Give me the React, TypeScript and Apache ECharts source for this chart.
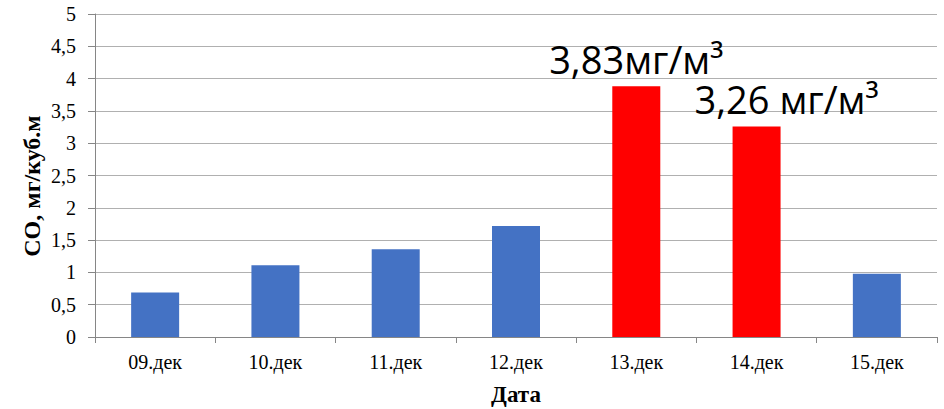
import React, { useEffect, useRef } from "react";
import * as echarts from "echarts";

const categories = ["09.дек", "10.дек", "11.дек", "12.дек", "13.дек", "14.дек", "15.дек"];
const values = [0.69, 1.11, 1.36, 1.72, 3.88, 3.26, 0.98];
const highlighted = [false, false, false, false, true, true, false];
const barLabels = ["", "", "", "", "3,83мг/м³", "3,26 мг/м³", ""];
const labelOffsets = [0, 0, 0, 0, 0, 30, 0];

export default function App() {
  const ref = useRef<HTMLDivElement>(null);
  useEffect(() => {
    if (!ref.current) return;
    const chart = echarts.init(ref.current, null, { renderer: "svg" });
    const serif = "'Liberation Serif', 'Times New Roman', serif";
    chart.setOption({
      animation: false,
      grid: { left: 95, right: 7, top: 14, bottom: 72, outerBoundsMode: "none", containLabel: false },
      xAxis: {
        type: "category",
        data: categories,
        axisLine: { lineStyle: { color: "#868686", width: 1 } },
        axisTick: { show: true, length: 6, lineStyle: { color: "#868686" } },
        axisLabel: { color: "#000", fontFamily: serif, fontSize: 20, margin: 15 },
        name: "Дата",
        nameLocation: "middle",
        nameGap: 46,
        nameTextStyle: { color: "#000", fontFamily: serif, fontSize: 23, fontWeight: "bold" },
      },
      yAxis: {
        type: "value",
        min: 0,
        max: 5,
        interval: 0.5,
        axisLine: { show: true, lineStyle: { color: "#868686", width: 1 } },
        axisTick: { show: true, length: 7, lineStyle: { color: "#868686" } },
        splitLine: { lineStyle: { color: "#b0b0b0", width: 1 } },
        axisLabel: {
          color: "#000",
          fontFamily: serif,
          fontSize: 20,
          margin: 19,
          formatter: (v: number) => String(v).replace(".", ","),
        },
      },
      graphic: [
        {
          type: "text",
          x: 32,
          y: 186,
          rotation: Math.PI / 2,
          style: {
            text: "СО, мг/куб.м",
            fill: "#000",
            font: `bold 24px ${serif}`,
            align: "center",
            verticalAlign: "middle",
          },
        },
      ],
      series: [
        {
          type: "bar",
          barWidth: 48,
          data: values.map((v, i) => ({
            value: v,
            itemStyle: { color: highlighted[i] ? "#FF0000" : "#4472C4" },
            label: {
              show: barLabels[i] !== "",
              position: "top",
              distance: 8,
              offset: [labelOffsets[i], 0],
              formatter: barLabels[i],
              color: "#000",
              fontFamily: "'Open Sans', 'Noto Sans', sans-serif",
              fontSize: 38,
            },
          })),
        },
      ],
    });
    return () => chart.dispose();
  }, []);
  return <div ref={ref} style={{ width: 944, height: 409, position: "absolute", left: 0, top: 0 }} />;
}
